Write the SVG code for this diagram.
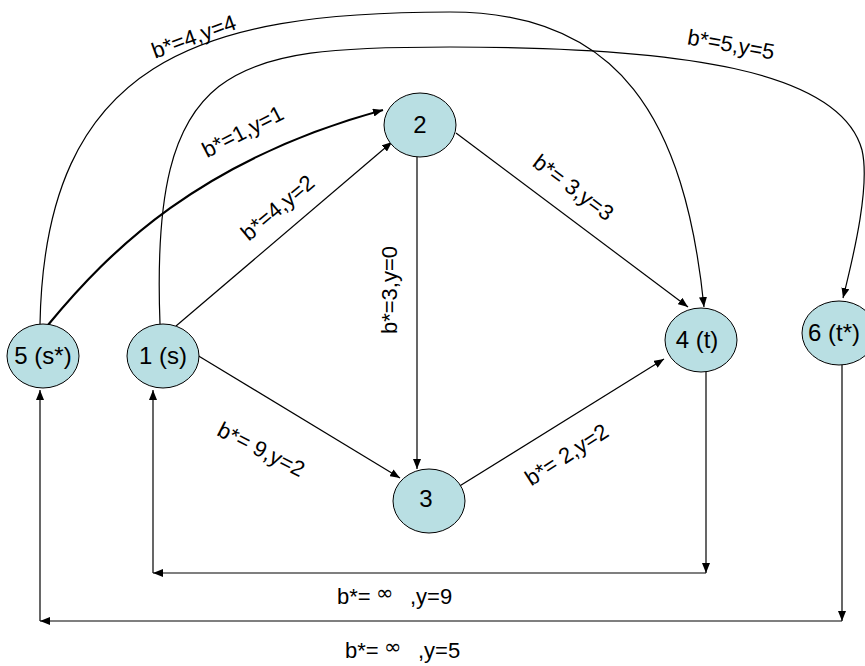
<svg xmlns="http://www.w3.org/2000/svg" width="865" height="666" viewBox="0 0 865 666">
<style>
.node ellipse{fill:#B9DFE3;stroke:#000;stroke-width:1}
.node text{font-family:"Liberation Sans",Arial,sans-serif;font-size:24px;fill:#000;text-anchor:middle}
.edge{fill:none;stroke:#000;stroke-width:1.2;marker-end:url(#arr)}
.thick{stroke-width:2.2}
.lbl{font-family:"Liberation Sans",Arial,sans-serif;font-size:22px;fill:#000;text-anchor:middle}
.bl{font-family:"Liberation Sans",Arial,sans-serif;font-size:22px;fill:#000}
.inf{font-family:"DejaVu Sans",sans-serif;font-size:21px}
</style>
<defs>
<marker id="arr" viewBox="0 0 10 8" refX="10" refY="4" markerWidth="10" markerHeight="8" orient="auto" markerUnits="userSpaceOnUse">
<path d="M0,0 L10,4 L0,8 z" fill="#000"/>
</marker>
</defs>
<rect width="865" height="666" fill="#fff"/>
<g id="connectors">
<path class="edge thick" d="M48,325 C110,250 200,160 383,110"/>
<path class="edge" d="M176,326 L392,142"/>
<path class="edge" d="M417,157 L417,469"/>
<path class="edge" d="M456,133 L688,307"/>
<path class="edge" d="M192,352 L400,478"/>
<path class="edge" d="M458,487 L664,359"/>
<path class="edge" d="M40,324 C45,60 200,12 450,12 C620,12 685,120 704,307"/>
<path class="edge" d="M160,324 C150,60 230,47 450,47 C680,47 840,70 862,150 C870,185 855,250 843,298"/>
<path class="edge" d="M706,372 L706,573"/>
<path class="edge" d="M706,573 L153,573"/>
<path class="edge" d="M153,573 L153,390"/>
<path class="edge" d="M842,365 L842,621"/>
<path class="edge" d="M842,621 L40,621"/>
<path class="edge" d="M40,621 L40,390"/>
</g>
<g id="labels">
<text class="lbl" transform="translate(194,37) rotate(-20)" y="7">b*=4,y=4</text>
<text class="lbl" transform="translate(243,132) rotate(-27)" y="7">b*=1,y=1</text>
<text class="lbl" transform="translate(278,208) rotate(-40)" y="7">b*=4,y=2</text>
<text class="lbl" transform="translate(390,290) rotate(-90)" y="7">b*=3,y=0</text>
<text class="lbl" transform="translate(573,188) rotate(37)" y="7">b*= 3,y=3</text>
<text class="lbl" transform="translate(731,45) rotate(10)" y="7">b*=5,y=5</text>
<text class="lbl" transform="translate(261,450) rotate(27)" y="7">b*= 9,y=2</text>
<text class="lbl" transform="translate(567,455) rotate(-33)" y="7">b*= 2,y=2</text>
<text class="bl" x="337" y="604">b*=<tspan class="inf" x="376" y="600">∞</tspan><tspan x="410" y="604">,y=9</tspan></text>
<text class="bl" x="345" y="658">b*=<tspan class="inf" x="384" y="654">∞</tspan><tspan x="418" y="658">,y=5</tspan></text>
</g>
<g id="node5" class="node"><ellipse cx="43" cy="356" rx="36" ry="32"/><text x="43" y="364">5 (s*)</text></g>
<g id="node1" class="node"><ellipse cx="163" cy="356" rx="36" ry="32"/><text x="163" y="364">1 (s)</text></g>
<g id="node2" class="node"><ellipse cx="420" cy="125" rx="36" ry="32"/><text x="420" y="133">2</text></g>
<g id="node3" class="node"><ellipse cx="429" cy="501" rx="36" ry="32"/><text x="426" y="507">3</text></g>
<g id="node4" class="node"><ellipse cx="701" cy="340" rx="36" ry="32"/><text x="697" y="348">4 (t)</text></g>
<g id="node6" class="node"><ellipse cx="839" cy="333" rx="37" ry="32"/><text x="834" y="341">6 (t*)</text></g>
</svg>
